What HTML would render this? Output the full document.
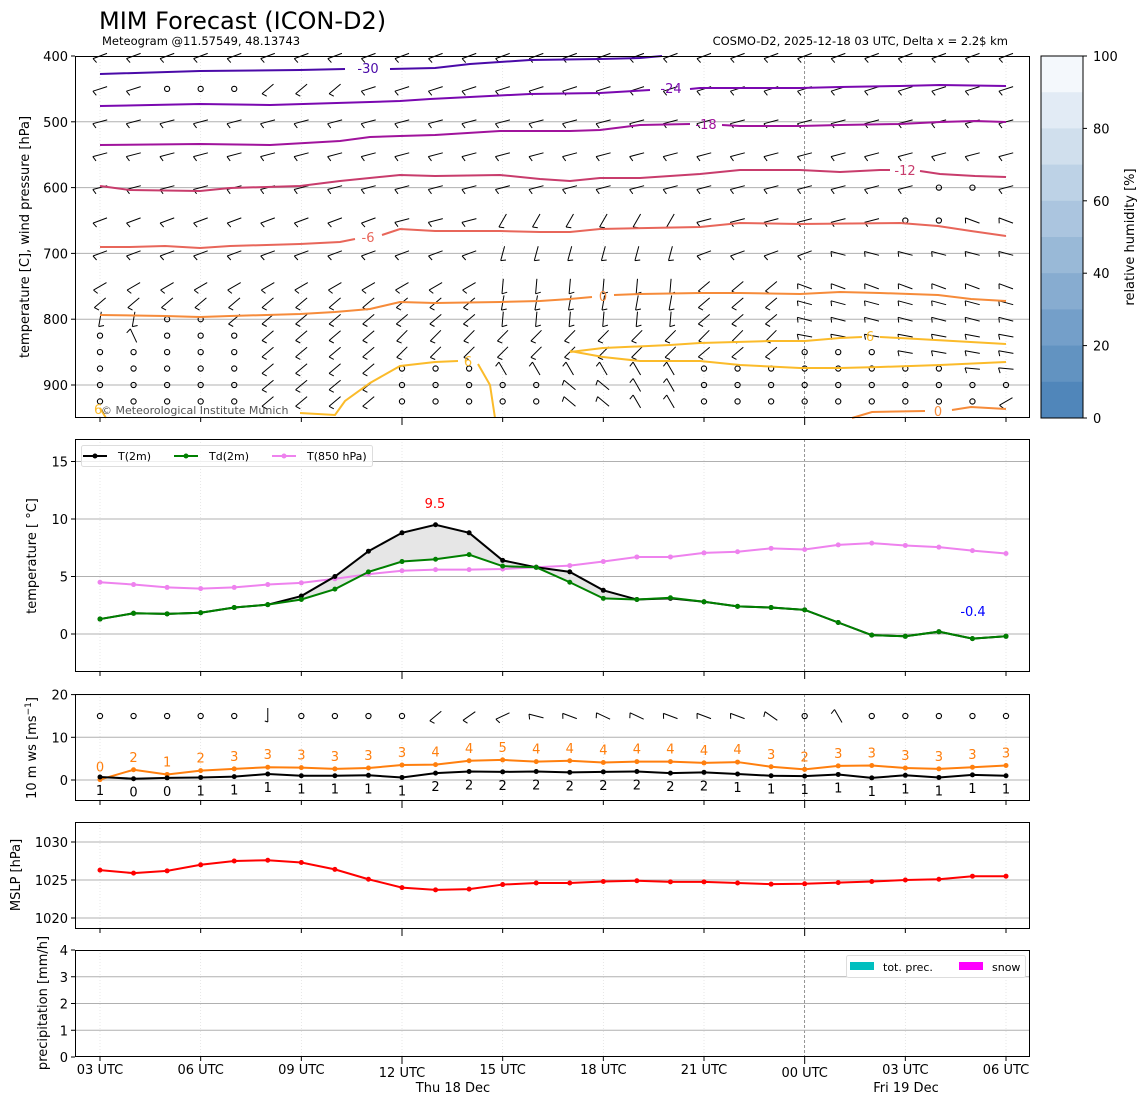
<!DOCTYPE html>
<html><head><meta charset="utf-8">
<style>
html,body{margin:0;padding:0;background:#fff;}
svg{display:block;font-family:"DejaVu Sans","Liberation Sans",sans-serif;}
</style></head>
<body>
<svg id="s" width="1148" height="1105" xmlns="http://www.w3.org/2000/svg"></svg>
<script>
const S=document.getElementById('s');let h='';
const X=i=>100+i*(906/27);
const L=75,R=1030;
function line(x1,y1,x2,y2,st){h+=`<line x1="${x1}" y1="${y1}" x2="${x2}" y2="${y2}" style="${st}"/>`;}
function txt(x,y,t,st,a){h+=`<text x="${x}" y="${y}" style="${st}" ${a||''}>${t}</text>`;}
function poly(pts,st){h+=`<polyline points="${pts.map(p=>p.join(',')).join(' ')}" style="fill:none;${st}"/>`;}
txt(99,29,'MIM Forecast (ICON-D2)','font-size:24px');
txt(102,45,'Meteogram @11.57549, 48.13743','font-size:11.5px');
txt(1008,45,'COSMO-D2, 2025-12-18 03 UTC, Delta x = 2.2$ km','font-size:11.5px','text-anchor="end"');
const P=[[56,418],[439,672],[694,801],[822,929],[950,1057]];
P.forEach((p,k)=>{for(let i=0;i<28;i+=3){const x=X(i);
 if(i==21) line(x,p[0],x,p[1],'stroke:#666;stroke-width:0.7;stroke-dasharray:3,2');
 else line(x,p[0],x,p[1],'stroke:#ddd;stroke-width:0.7;stroke-dasharray:1,2');}});
const yp=p=>56+(p-400)*0.658;
[500,600,700,800,900].forEach(p=>line(L,yp(p),R,yp(p),'stroke:#b0b0b0;stroke-width:1'));
[400,500,600,700,800,900].forEach(p=>{line(L-4,yp(p),L,yp(p),'stroke:#000');txt(L-7,yp(p)+5,p,'font-size:13px','text-anchor="end"');});
const lev=[400,450,500,550,600,650,700,750,775,800,825,850,875,900,925];
function barb(x,y,a,len){len=len||15;const r=a*Math.PI/180,c=Math.cos(r),s=Math.sin(r);
 const x1=x-c*len/2,y1=y-s*len/2,x2=x+c*len/2,y2=y+s*len/2;
 h+=`<path d="M${x1.toFixed(1)},${y1.toFixed(1)}L${x2.toFixed(1)},${y2.toFixed(1)}M${x1.toFixed(1)},${y1.toFixed(1)}l${(-s*5+c*2).toFixed(1)},${(c*5+s*2).toFixed(1)}" style="stroke:#000;stroke-width:1;fill:none"/>`;}
function calm(x,y){h+=`<circle cx="${x}" cy="${y}" r="2.6" style="fill:none;stroke:#000;stroke-width:1.1"/>`;}
for(let r=0;r<lev.length;r++)for(let c=0;c<28;c++){const x=X(c),y=yp(lev[r]);let a=null;
 if(r==0){a=-20;} else if(r==1){a=(c>=2&&c<=4)?null:(c>=5&&c<=7?-40:-18);}
 else if(r<=4){a=-15;if(r==4&&(c==25||c==26))a=null;}
 else if(r==5){a=(c<9?-20:-15);if(c>=12&&c<=17)a=-60;if(c==24||c==25)a=null;if(c>=26)a=20;}
 else if(r==6){a=-20;if(c>=12&&c<=17)a=-75;if(c>=22)a=15;}
 else if(r==7){a=-30;if(c>=12&&c<=17)a=-85;if(c>=18&&c<=20)a=-40;if(c>=21)a=20;}
 else if(r==8){a=-40;if(c>=12&&c<=17)a=-80;if(c>=18&&c<=20)a=-40;if(c>=21)a=15;}
 else if(r==9){a=-40;if(c==0||c==1)a=-80;if(c==2||c==3)a=null;if(c>=12&&c<=17)a=-85;if(c>=18&&c<=20)a=-40;if(c>=21)a=15;}
 else { if(c<=4)a=null;
  if(r==10&&c==1)a=65;
  if(c>=5&&c<=8)a=-40;
  if(c>=9&&c<=17)a=(r<=11?-45:(c>=12?60:null));
  if(r==10&&c>=18)a=(c<=20?-45:10);
  if(r==11&&c>=18)a=(c<=20?-40:(c>=24?10:null));
  if(r>=12&&c>=18)a=null;
  if(r==12&&c>=26)a=5;
  if(r>=13&&c>=9&&c<=11)a=null;
  if(r==12&&c>=9&&c<=11)a=null;
  if(r>=13&&c>=12&&c<=15)a=(c>=14?40:null);
  if(r==14&&c==27)a=-30;
 }
 if(a===null)calm(x,y);else barb(x,y,a);}
const C=[
['#4a0aa8',[[100,74],[200,71],[300,70],[345,69]],[[390,69],[435,68],[470,64],[530,60],[600,59],[640,58],[662,56]],'-30',368,73],
['#7a08b0',[[100,106],[200,104],[270,105],[370,102],[400,101],[430,99],[470,97],[530,94],[600,93],[650,90]],[[690,89],[700,88],[800,88],[840,87],[900,86],[940,85],[1006,86]],'-24',671,93],
['#a0139c',[[100,145],[200,144],[270,145],[340,141],[370,137],[400,136],[435,135],[500,131],[570,131],[600,130],[640,125],[690,124]],[[722,125],[740,126],[800,126],[840,125],[900,124],[940,122],[975,121],[1006,122]],'-18',706,129],
['#c83c6c',[[100,186],[130,190],[200,191],[230,188],[300,186],[340,181],[400,175],[435,176],[500,175],[540,179],[570,181],[600,178],[640,178],[700,174],[740,170],[800,170],[840,172],[880,170],[890,170]],[[920,171],[940,174],[975,176],[1006,177]],'-12',905,175],
['#e8665a',[[100,247],[130,247],[165,246],[200,248],[230,246],[300,244],[340,242],[355,239]],[[382,235],[400,229],[435,231],[500,231],[540,232],[570,232],[600,229],[700,227],[740,223],[800,224],[900,223],[938,226],[971,231],[1006,236]],'-6',368,242],
['#f68b3a',[[100,315],[165,316],[200,317],[230,316],[300,314],[335,312],[370,309],[400,302],[435,303],[500,302],[540,301],[570,299],[592,297]],[[614,295],[640,294],[700,293],[740,293],[800,294],[840,292],[880,293],[938,295],[971,299],[1006,301]],'0',603,301],
['#f68b3a',[[852,418],[872,412],[925,411]],[[952,410],[971,407],[1006,409]],'0',938,416],
['#fbbb2a',[[300,413],[335,415],[345,401],[370,383],[400,366],[435,362],[458,361]],[[478,364],[490,385],[495,418]],'6',468,366],
['#fbbb2a',[[570,351],[603,357],[640,361],[700,361],[740,365],[800,368],[840,368],[880,367],[940,365],[1006,362]],null,null],
['#fbbb2a',[[570,352],[603,348],[670,345],[700,343],[770,341],[805,341],[840,338],[862,337]],[[880,337],[900,338],[1006,344]],'6',870,341]
];
C.forEach(c=>{poly(c[1],`stroke:${c[0]};stroke-width:2`);if(c[2])poly(c[2],`stroke:${c[0]};stroke-width:2`);if(c[3])txt(c[4],c[5],c[3],`font-size:13px;fill:${c[0]}`,'text-anchor="middle"');});
txt(94,414,'6','font-size:13px;fill:#fbbb2a');poly([[100,408],[106,418]],'stroke:#fbbb2a;stroke-width:2');
txt(101,414,'© Meteorological Institute Munich','font-size:11px;fill:#555');
for(let k=0;k<10;k++){const t=k/9;const c0=[244,248,252],c1=[80,134,186];
 const col=`rgb(${c0.map((v,j)=>Math.round(v+(c1[j]-v)*t)).join(',')})`;
 const y=56+k*36.2;h+=`<rect x="1041" y="${y}" width="42" height="36.6" fill="${col}"/>`;}
h+=`<rect x="1041" y="56" width="42" height="362" style="fill:none;stroke:#000;stroke-width:1"/>`;
[0,20,40,60,80,100].forEach(v=>{const y=418-v*3.62;line(1083,y,1087,y,'stroke:#000');txt(1093,y+5,v,'font-size:13px');});
txt(0,0,'relative humidity [%]','font-size:13px','text-anchor="middle" transform="translate(1134,237) rotate(-90)"');
txt(0,0,'temperature [C], wind pressure [hPa]','font-size:13px','text-anchor="middle" transform="translate(29,237) rotate(-90)"');
const yt=v=>634-11.5*v;
[0,5,10,15].forEach(v=>{line(L,yt(v),R,yt(v),'stroke:#b0b0b0');line(L-4,yt(v),L,yt(v),'stroke:#000');txt(L-7,yt(v)+5,v,'font-size:13px','text-anchor="end"');});
const T=[1.3,1.8,1.75,1.85,2.3,2.55,3.3,5.0,7.2,8.8,9.5,8.8,6.4,5.8,5.4,3.8,3.0,3.1,2.8,2.4,2.3,2.1,1.0,-0.1,-0.2,0.2,-0.4,-0.2];
const Td=[1.3,1.8,1.75,1.85,2.3,2.55,3.0,3.9,5.4,6.3,6.5,6.9,5.9,5.8,4.5,3.1,3.0,3.15,2.8,2.4,2.3,2.1,1.0,-0.1,-0.2,0.2,-0.4,-0.2];
const T8=[4.5,4.3,4.05,3.95,4.05,4.3,4.45,4.8,5.2,5.5,5.6,5.6,5.65,5.8,5.95,6.3,6.7,6.7,7.05,7.15,7.45,7.35,7.75,7.9,7.7,7.55,7.25,7.0];
let fp=T.map((v,i)=>X(i)+','+yt(v)).concat(Td.map((v,i)=>X(i)+','+yt(v)).reverse());
h+=`<polygon points="${fp.join(' ')}" style="fill:#e6e6e6;stroke:none"/>`;
function series(arr,f,col,r){poly(arr.map((v,i)=>[X(i),f(v)]),`stroke:${col};stroke-width:2`);arr.forEach((v,i)=>h+=`<circle cx="${X(i)}" cy="${f(v)}" r="${r||2.5}" fill="${col}"/>`);}
series(T8,yt,'#ee82ee');series(T,yt,'#000');series(Td,yt,'#008000');
txt(435,508,'9.5','font-size:13px;fill:#f00','text-anchor="middle"');
txt(973,616,'-0.4','font-size:13px;fill:#00f','text-anchor="middle"');
h+=`<rect x="81.5" y="445.5" width="291" height="21" rx="2" style="fill:#fff;fill-opacity:0.8;stroke:#ddd"/>`;
[['#000',83,'T(2m)'],['#008000',174,'Td(2m)'],['#ee82ee',272,'T(850 hPa)']].forEach(l=>{line(l[1],456,l[1]+24,456,`stroke:${l[0]};stroke-width:2`);h+=`<circle cx="${l[1]+12}" cy="456" r="2.5" fill="${l[0]}"/>`;txt(l[1]+35,460,l[2],'font-size:11px');});
txt(0,0,'temperature [ °C]','font-size:13px','text-anchor="middle" transform="translate(36,556) rotate(-90)"');
const yw=v=>780-4.27*v;
[0,10,20].forEach(v=>{line(L,yw(v),R,yw(v),'stroke:#b0b0b0');line(L-4,yw(v),L,yw(v),'stroke:#000');txt(L-7,yw(v)+5,v,'font-size:13px','text-anchor="end"');});
const W=[0.7,0.3,0.5,0.6,0.8,1.4,1.0,1.0,1.1,0.6,1.6,2.0,1.9,2.0,1.8,1.9,2.0,1.6,1.8,1.4,1.0,0.9,1.3,0.5,1.1,0.6,1.2,1.0];
const WL=[1,0,0,1,1,1,1,1,1,1,2,2,2,2,2,2,2,2,2,1,1,1,1,1,1,1,1,1];
const G=[0.1,2.4,1.3,2.2,2.6,3.0,2.9,2.6,2.8,3.5,3.6,4.5,4.7,4.3,4.5,4.1,4.3,4.3,4.0,4.2,3.1,2.5,3.3,3.4,2.8,2.6,3.0,3.4];
const GL=[0,2,1,2,3,3,3,3,3,3,4,4,5,4,4,4,4,4,4,4,3,2,3,3,3,3,3,3];
series(G,yw,'#ff7f0e');series(W,yw,'#000');
G.forEach((v,i)=>txt(X(i),yw(v)-8,GL[i],'font-size:13px;fill:#ff7f0e','text-anchor="middle"'));
W.forEach((v,i)=>txt(X(i),yw(v)+18,WL[i],'font-size:13px','text-anchor="middle"'));
for(let c=0;c<28;c++){const x=X(c),y=716;
 if(c==5){line(x,708,x,722,'stroke:#000');line(x,722,x-3,721,'stroke:#000');}
 else if(c>=10&&c<=20){barb(x,y,[-40,-35,-25,15,20,25,25,20,20,20,35][c-10],15);}
 else if(c==22){barb(x,y,60,15);}
 else calm(x,y);}
txt(0,0,'10 m ws [ms<tspan dy="-5" style="font-size:9px">−1</tspan><tspan dy="5">]</tspan>','font-size:13px','text-anchor="middle" transform="translate(36,748) rotate(-90)"');
const ym=v=>880-7.6*(v-1025);
[1020,1025,1030].forEach(v=>{line(L,ym(v),R,ym(v),'stroke:#b0b0b0');line(L-4,ym(v),L,ym(v),'stroke:#000');txt(L-7,ym(v)+5,v,'font-size:13px','text-anchor="end"');});
const M=[1026.3,1025.9,1026.2,1027.0,1027.5,1027.6,1027.3,1026.4,1025.1,1024.0,1023.7,1023.8,1024.4,1024.6,1024.6,1024.8,1024.9,1024.75,1024.75,1024.6,1024.45,1024.5,1024.65,1024.8,1025.0,1025.1,1025.5,1025.5];
series(M,ym,'#f00');
txt(0,0,'MSLP [hPa]','font-size:13px','text-anchor="middle" transform="translate(20,875) rotate(-90)"');
const yr=v=>1057-26.75*v;
[0,1,2,3,4].forEach(v=>{if(v>0&&v<4)line(L,yr(v),R,yr(v),'stroke:#b0b0b0');line(L-4,yr(v),L,yr(v),'stroke:#000');txt(L-7,yr(v)+5,v,'font-size:13px','text-anchor="end"');});
h+=`<rect x="846.5" y="955.5" width="179" height="22" rx="2" style="fill:#fff;stroke:#ddd"/>`;
h+=`<rect x="850" y="962" width="24" height="8" fill="#00bfbf"/>`;txt(883,971,'tot. prec.','font-size:11px');
h+=`<rect x="959" y="962" width="24" height="8" fill="#ff00ff"/>`;txt(992,971,'snow','font-size:11px');
txt(0,0,'precipitation [mm/h]','font-size:13px','text-anchor="middle" transform="translate(47,1003) rotate(-90)"');
P.forEach(p=>{h+=`<rect x="${L}.5" y="${p[0]}.5" width="${R-L-1}" height="${p[1]-p[0]-1}" style="fill:none;stroke:#000;stroke-width:1"/>`;
 for(let i=0;i<28;i+=3){const big=(i==9||i==21);line(X(i),p[1],X(i),p[1]+(big?7:4),'stroke:#000');}});
const lab=['03 UTC','06 UTC','09 UTC','12 UTC','15 UTC','18 UTC','21 UTC','00 UTC','03 UTC','06 UTC'];
lab.forEach((t,k)=>{const i=k*3;txt(X(i),(i==9||i==21)?1077:1074,t,'font-size:13px','text-anchor="middle"');});
txt(453,1092,'Thu 18 Dec','font-size:13px','text-anchor="middle"');
txt(906,1092,'Fri 19 Dec','font-size:13px','text-anchor="middle"');
S.innerHTML=h;
</script>
</body></html>
